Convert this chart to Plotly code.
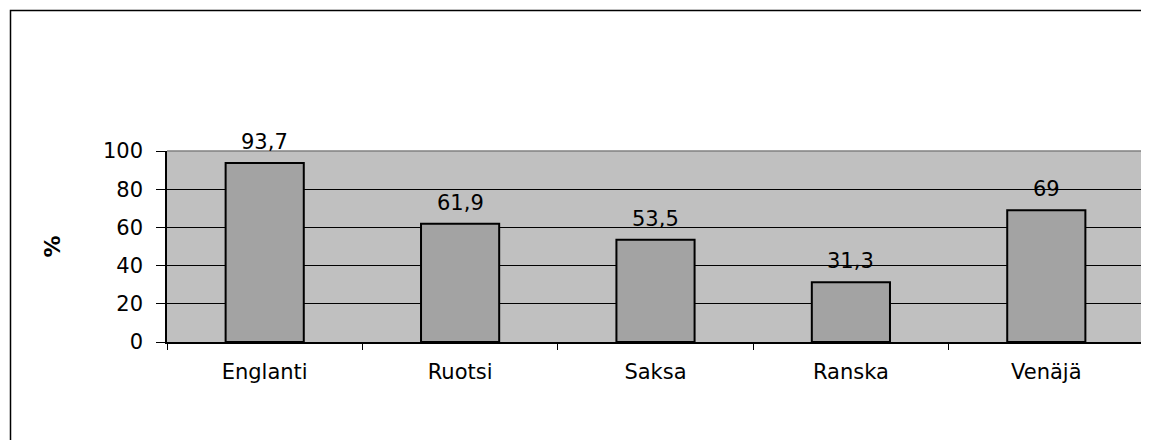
import plotly.graph_objects as go

categories = ["Englanti", "Ruotsi", "Saksa", "Ranska", "Venäjä"]
values = [93.7, 61.9, 53.5, 31.3, 69]
value_labels = ["93,7", "61,9", "53,5", "31,3", "69"]
y_tick_vals = [0, 20, 40, 60, 80, 100]
y_title = "%"

# page body has an 8px margin, so the figure is sized/offset accordingly
OFF = 8
W, H = 1149 - OFF, 440 - OFF
ML, MR, MT, MB = 167 - OFF, 5, 151 - OFF, 98
PW = W - ML - MR
PH = H - MT - MB

FONT = "DejaVu Sans"
FS = 21

fig = go.Figure()
fig.add_trace(go.Bar(
    x=categories, y=values,
    marker=dict(color="#A3A3A3", line=dict(color="black", width=2)),
    hoverinfo="skip",
))

for c, v, t in zip(categories, values, value_labels):
    fig.add_annotation(x=c, y=v, text=t, showarrow=False, yanchor="bottom",
                       yshift=7, font=dict(family=FONT, size=FS, color="black"))

fig.add_annotation(xref="paper", yref="paper", x=(52 - OFF - ML) / PW, y=0.5,
                   xanchor="center", yanchor="middle",
                   text="<b>" + y_title + "</b>", textangle=-90, showarrow=False,
                   font=dict(family=FONT, size=22, color="black"))

# plot-area top/right border (gray)
fig.add_shape(type="line", xref="paper", yref="paper", x0=0, x1=1, y0=1, y1=1,
              line=dict(color="#808080", width=1.5), layer="above")
fig.add_shape(type="line", xref="paper", yref="paper", x0=1, x1=1, y0=0, y1=1,
              line=dict(color="#808080", width=1.5), layer="above")
# outer chart frame (cut off at right/bottom)
fig.add_shape(type="rect", xref="paper", yref="paper",
              x0=(10.5 - OFF - ML) / PW, x1=(W + 20 - ML) / PW,
              y0=-(H + 20 - MT - PH) / PH, y1=(H - (10.5 - OFF) - MB) / PH,
              line=dict(color="black", width=1.5), layer="below")

fig.update_layout(
    width=W, height=H,
    margin=dict(l=ML, r=MR, t=MT, b=MB),
    paper_bgcolor="white", plot_bgcolor="#C0C0C0",
    bargap=0.6, showlegend=False,
    font=dict(family=FONT, size=FS, color="black"),
)
fig.update_xaxes(
    type="category", showline=True, linecolor="black", linewidth=1.5,
    ticks="outside", tickson="boundaries", ticklen=6, tickcolor="black",
    tickfont=dict(family=FONT, size=FS), ticklabelstandoff=10,
    showgrid=False, zeroline=False, fixedrange=True,
)
fig.update_yaxes(
    range=[0, 100], tickvals=y_tick_vals, showline=True, linecolor="black",
    linewidth=1.5, ticks="outside", ticklen=9, tickcolor="black",
    tickfont=dict(family=FONT, size=FS), ticklabelstandoff=9,
    showgrid=True, gridcolor="black", gridwidth=1, zeroline=False, fixedrange=True,
)

fig.write_html("out.html")
